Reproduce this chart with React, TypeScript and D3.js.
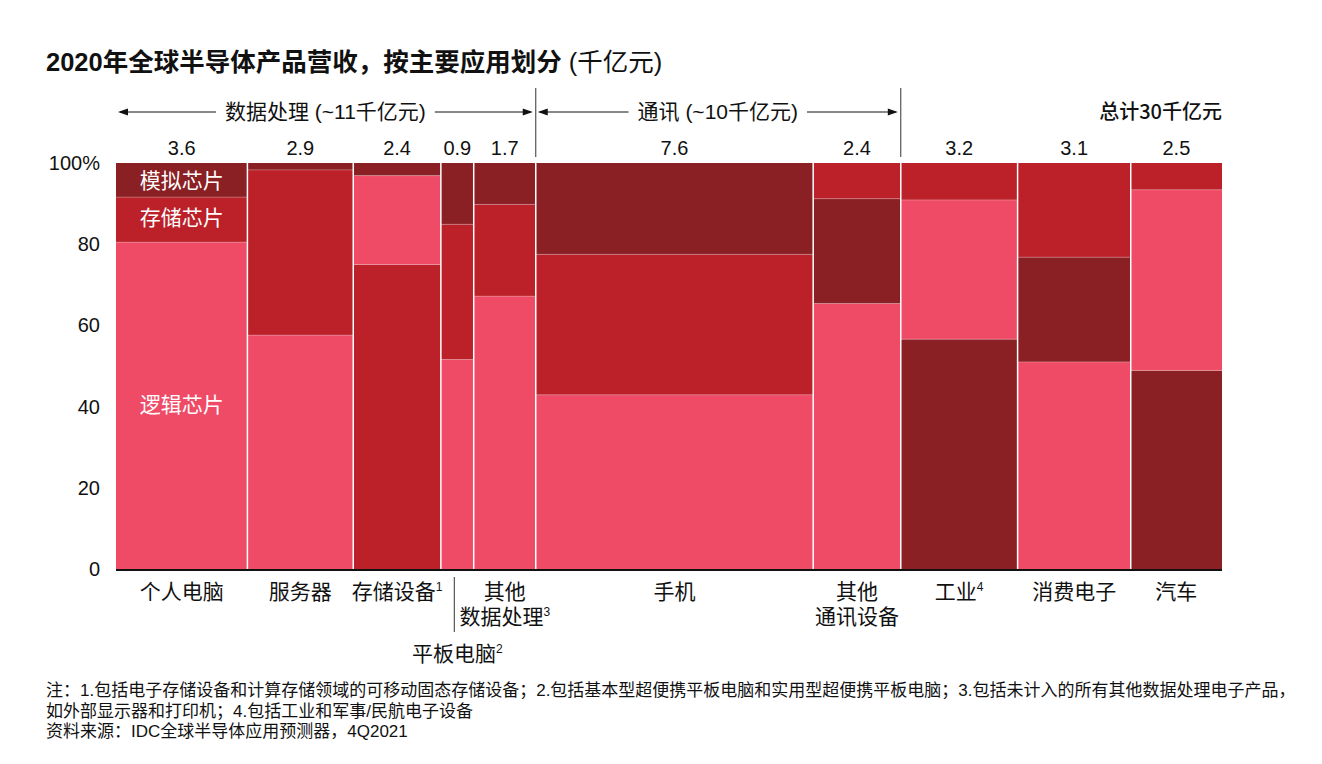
import React, { useRef, useEffect } from 'react';
import * as d3 from 'd3';

const categories = ['个人电脑', '服务器', '存储设备', '平板电脑', '其他数据处理', '手机', '其他通讯设备', '工业', '消费电子', '汽车'];
const revenue = [3.6, 2.9, 2.4, 0.9, 1.7, 7.6, 2.4, 3.2, 3.1, 2.5];
const logicShare = [80.5, 57.6, 21.9, 51.6, 67.2, 42.9, 65.4, 34.3, 51.0, 44.5];
const memoryShare = [11.1, 40.7, 75.0, 33.3, 22.6, 34.6, 8.8, 9.1, 23.2, 6.6];
const analogShare = [8.4, 1.7, 3.1, 15.1, 10.2, 22.5, 25.8, 56.6, 25.8, 48.9];
const labelLines = [['个人电脑'], ['服务器'], ['存储设备'], ['平板电脑'], ['其他', '数据处理'], ['手机'], ['其他', '通讯设备'], ['工业'], ['消费电子'], ['汽车']];
const labelSup = ['', '', '1', '2', '3', '', '', '4', '', ''];
const yTicks = [0, 20, 40, 60, 80, 100];

const segmentTypes = [
  { id: 'logic', name: '逻辑芯片', color: '#F04B66', values: logicShare },
  { id: 'memory', name: '存储芯片', color: '#BC2029', values: memoryShare },
  { id: 'analog', name: '模拟芯片', color: '#8A1F24', values: analogShare },
];

const footnotes = [
  '注：1.包括电子存储设备和计算存储领域的可移动固态存储设备；2.包括基本型超便携平板电脑和实用型超便携平板电脑；3.包括未计入的所有其他数据处理电子产品，',
  '如外部显示器和打印机；4.包括工业和军事/民航电子设备',
  '资料来源：IDC全球半导体应用预测器，4Q2021',
];

const FONT = '"Liberation Sans Narrow", "Liberation Sans", "Noto Sans CJK SC", sans-serif';

const App: React.FC = () => {
  const svgRef = useRef<SVGSVGElement | null>(null);

  useEffect(() => {
    if (!svgRef.current) return;
    const svg = d3.select(svgRef.current);
    svg.selectAll('*').remove();

    const left = 116, right = 1222, top = 163, bottom = 569;
    const total = d3.sum(revenue);
    const x = d3.scaleLinear().domain([0, total]).range([left, right]);
    const y = d3.scaleLinear().domain([0, 100]).range([bottom, top]);

    const starts = revenue.map((_, i) => d3.sum(revenue.slice(0, i)));

    // Title
    const title = svg.append('text')
      .attr('x', 46).attr('y', 71)
      .style('font-family', '"Liberation Sans", "Noto Sans CJK SC", sans-serif')
      .style('font-size', '25.5px')
      .attr('fill', '#111');
    title.append('tspan').style('font-weight', 'bold').text('2020年全球半导体产品营收，按主要应用划分');
    title.append('tspan').text(' (千亿元)');

    // Columns, segments stacked largest at bottom
    categories.forEach((cat, i) => {
      const segs = segmentTypes
        .map(s => ({ ...s, v: s.values[i] }))
        .sort((a, b) => b.v - a.v);
      let acc = 0;
      const col = svg.append('g').attr('class', 'col');
      segs.forEach(s => {
        col.append('rect')
          .attr('x', x(starts[i]))
          .attr('width', x(revenue[i]) - x(0))
          .attr('y', y(acc + s.v))
          .attr('height', y(acc) - y(acc + s.v))
          .attr('fill', s.color);
        if (acc > 0) {
          col.append('line')
            .attr('x1', x(starts[i])).attr('x2', x(starts[i] + revenue[i]))
            .attr('y1', y(acc)).attr('y2', y(acc))
            .attr('stroke', '#ffffff').attr('stroke-opacity', 0.25).attr('stroke-width', 1);
        }
        acc += s.v;
      });
    });

    // Column separators
    starts.slice(1).forEach(s => {
      svg.append('line')
        .attr('x1', x(s)).attr('x2', x(s))
        .attr('y1', top).attr('y2', bottom)
        .attr('stroke', '#fff').attr('stroke-width', 1.5);
    });

    // Segment labels in first column
    const cx0 = x(starts[0] + revenue[0] / 2);
    [{ t: '模拟芯片', y: 188 }, { t: '存储芯片', y: 225 }, { t: '逻辑芯片', y: 412 }].forEach(d => {
      svg.append('text')
        .attr('x', cx0).attr('y', d.y)
        .attr('text-anchor', 'middle')
        .attr('fill', '#fff')
        .style('font-family', FONT)
        .style('font-size', '21px')
        .text(d.t);
    });

    // Baseline
    svg.append('line')
      .attr('x1', left).attr('x2', right)
      .attr('y1', bottom + 1).attr('y2', bottom + 1)
      .attr('stroke', '#111').attr('stroke-width', 2);

    // Y ticks
    svg.selectAll('.ytick')
      .data(yTicks)
      .join('text')
      .attr('class', 'ytick')
      .attr('x', 100)
      .attr('y', d => y(d) + 7)
      .attr('text-anchor', 'end')
      .attr('fill', '#111')
      .style('font-family', FONT)
      .style('font-size', '20px')
      .text(d => (d === 100 ? '100%' : String(d)));

    // Revenue labels
    svg.selectAll('.rev')
      .data(revenue)
      .join('text')
      .attr('class', 'rev')
      .attr('x', (d, i) => x(starts[i] + d / 2))
      .attr('y', 155)
      .attr('text-anchor', 'middle')
      .attr('fill', '#111')
      .style('font-family', FONT)
      .style('font-size', '20px')
      .text(d => d.toFixed(1));

    // Category labels
    categories.forEach((cat, i) => {
      const cx = x(starts[i] + revenue[i] / 2);
      const baseY = i === 3 ? 661 : 599;
      labelLines[i].forEach((line, li) => {
        const t = svg.append('text')
          .attr('x', cx).attr('y', baseY + li * 25)
          .attr('text-anchor', 'middle')
          .attr('fill', '#111')
          .style('font-family', FONT)
          .style('font-size', '21px');
        t.append('tspan').text(line);
        if (li === labelLines[i].length - 1 && labelSup[i]) {
          t.append('tspan').attr('dy', -8).style('font-size', '12px').text(labelSup[i]);
        }
      });
    });
    // divider between storage and other-DP labels (marks the tablet column)
    const tabletMid = x(starts[3] + revenue[3] / 2) - 3;
    svg.append('line')
      .attr('x1', tabletMid).attr('x2', tabletMid)
      .attr('y1', 577).attr('y2', 632)
      .attr('stroke', '#333').attr('stroke-width', 1);

    // Group headers
    const arrowY = 112;
    const arrowHead = (tipX: number, dir: number) => {
      svg.append('path')
        .attr('d', `M${tipX},${arrowY} L${tipX - dir * 10},${arrowY - 3.5} L${tipX - dir * 10},${arrowY + 3.5} Z`)
        .attr('fill', '#111');
    };
    const groups = [
      { from: 0, to: 5, text: '数据处理 (~11千亿元)' },
      { from: 5, to: 7, text: '通讯 (~10千亿元)' },
    ];
    groups.forEach(g => {
      const x0 = x(starts[g.from]) + 2;
      const x1 = x(starts[g.to - 1] + revenue[g.to - 1]) - 3;
      const mid = (x0 + x1) / 2;
      const label = svg.append('text')
        .attr('x', mid).attr('y', arrowY + 7)
        .attr('text-anchor', 'middle')
        .attr('fill', '#111')
        .style('font-family', FONT)
        .style('font-size', '21px')
        .text(g.text);
      const w = (label.node() as SVGTextElement).getComputedTextLength();
      svg.append('line')
        .attr('x1', x0 + 2).attr('x2', mid - w / 2 - 9)
        .attr('y1', arrowY).attr('y2', arrowY)
        .attr('stroke', '#111').attr('stroke-width', 1);
      svg.append('line')
        .attr('x1', mid + w / 2 + 9).attr('x2', x1 - 2)
        .attr('y1', arrowY).attr('y2', arrowY)
        .attr('stroke', '#111').attr('stroke-width', 1);
      arrowHead(x0, -1);
      arrowHead(x1, 1);
    });
    [5, 7].forEach(idx => {
      svg.append('line')
        .attr('x1', x(starts[idx])).attr('x2', x(starts[idx]))
        .attr('y1', 88).attr('y2', 157)
        .attr('stroke', '#333').attr('stroke-width', 1);
    });
    svg.append('text')
      .attr('x', right).attr('y', arrowY + 7)
      .attr('text-anchor', 'end')
      .attr('fill', '#111')
      .style('font-family', '"Noto Sans CJK SC", "Liberation Sans", sans-serif')
      .style('font-size', '20px')
      .style('font-weight', 500)
      .text('总计30千亿元');

    // Footnotes
    footnotes.forEach((f, i) => {
      svg.append('text')
        .attr('x', 46).attr('y', 696 + i * 20.5)
        .attr('fill', '#111')
        .style('font-family', FONT)
        .style('font-size', '17px')
        .text(f);
    });
  }, []);

  return (
    <svg
      ref={svgRef}
      width={1322}
      height={764}
      style={{ position: 'absolute', left: 0, top: 0, background: '#fff' }}
    />
  );
};

export default App;
